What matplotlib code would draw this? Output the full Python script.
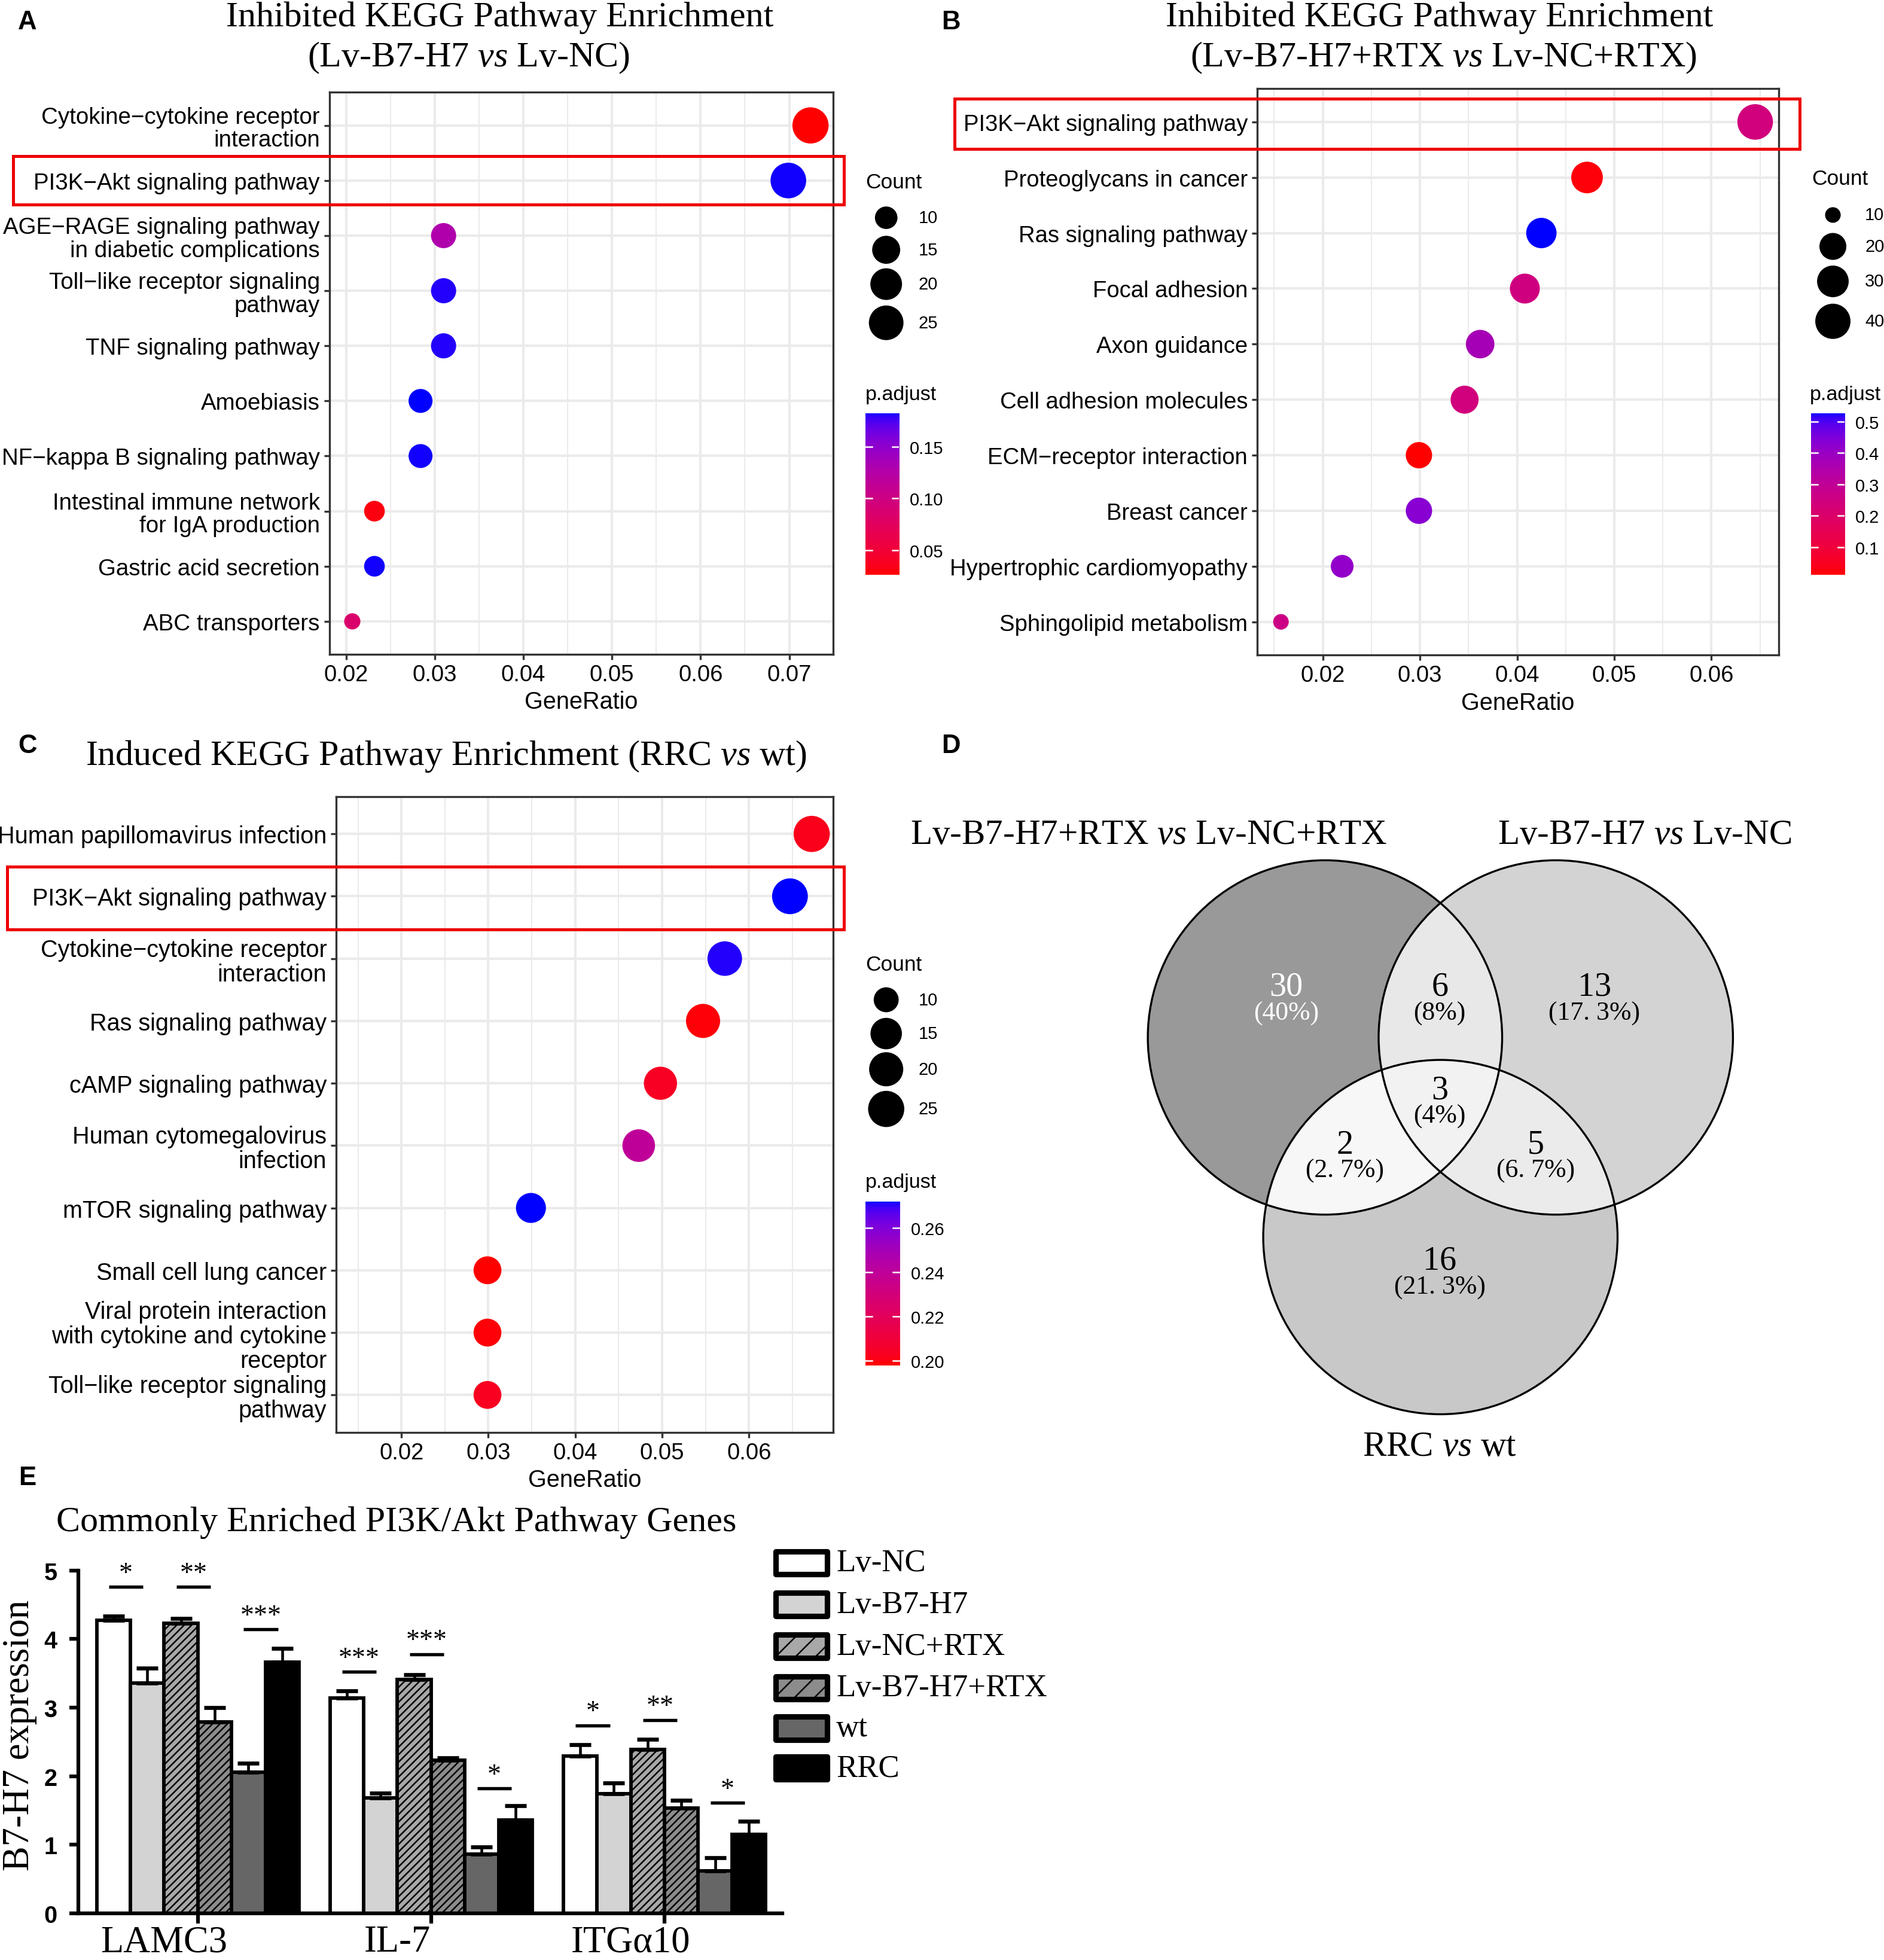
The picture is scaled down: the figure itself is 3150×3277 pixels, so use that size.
import numpy as np
import matplotlib
matplotlib.use("Agg")
import matplotlib.pyplot as plt
from matplotlib.patches import Rectangle, Circle
from matplotlib.colors import ListedColormap, Normalize
from matplotlib.ticker import MultipleLocator, FormatStrFormatter
import matplotlib.transforms as mtransforms

plt.rcParams["font.family"] = ["Liberation Sans", "DejaVu Sans"]
plt.rcParams["mathtext.fontset"] = "custom"
plt.rcParams["mathtext.rm"] = "Liberation Serif"
plt.rcParams["mathtext.it"] = "Liberation Serif:italic"
plt.rcParams["hatch.linewidth"] = 0.6
SERIF = ["Liberation Serif", "DejaVu Serif"]

DPI = 300
PX = 2.086                      # image pixels per layout unit
W, H = 3150 / PX, 3278 / PX     # figure size in layout units
PT = PX * 72 / DPI              # points per layout unit
M = "\u2212"                    # ggplot renders "-" as a minus sign

# ---------------- panel A: Lv-B7-H7 vs Lv-NC ----------------
a_terms = [f"Cytokine{M}cytokine receptor\ninteraction",
           f"PI3K{M}Akt signaling pathway",
           f"AGE{M}RAGE signaling pathway\nin diabetic complications",
           f"Toll{M}like receptor signaling\npathway",
           "TNF signaling pathway",
           "Amoebiasis",
           f"NF{M}kappa B signaling pathway",
           "Intestinal immune network\nfor IgA production",
           "Gastric acid secretion",
           "ABC transporters"]
a_ratio = [0.0724, 0.0699, 0.0310, 0.0310, 0.0310, 0.0284, 0.0284, 0.0232, 0.0232, 0.0207]
a_count = [28, 27, 12, 12, 12, 11, 11, 9, 9, 8]
a_padj = [0.026, 0.181, 0.128, 0.180, 0.180, 0.182, 0.181, 0.030, 0.181, 0.085]

# ---------------- panel B: Lv-B7-H7+RTX vs Lv-NC+RTX ----------------
b_terms = [f"PI3K{M}Akt signaling pathway", "Proteoglycans in cancer",
           "Ras signaling pathway", "Focal adhesion", "Axon guidance",
           "Cell adhesion molecules", f"ECM{M}receptor interaction",
           "Breast cancer", "Hypertrophic cardiomyopathy",
           "Sphingolipid metabolism"]
b_ratio = [0.0645, 0.0472, 0.0425, 0.0408, 0.0362, 0.0346, 0.0299, 0.0299, 0.0220, 0.0157]
b_count = [41, 30, 27, 26, 23, 22, 19, 19, 14, 10]
b_padj = [0.24, 0.02, 0.526, 0.25, 0.37, 0.24, 0.0105, 0.43, 0.41, 0.26]

# ---------------- panel C: RRC vs wt ----------------
c_terms = ["Human papillomavirus infection", f"PI3K{M}Akt signaling pathway",
           f"Cytokine{M}cytokine receptor\ninteraction", "Ras signaling pathway",
           "cAMP signaling pathway", "Human cytomegalovirus\ninfection",
           "mTOR signaling pathway", "Small cell lung cancer",
           "Viral protein interaction\nwith cytokine and cytokine\nreceptor",
           f"Toll{M}like receptor signaling\npathway"]
c_ratio = [0.0672, 0.0647, 0.0572, 0.0547, 0.0498, 0.0473, 0.0349, 0.0299, 0.0299, 0.0299]
c_count = [25, 24, 21, 20, 18, 17, 13, 11, 11, 11]
c_padj = [0.202, 0.272, 0.271, 0.199, 0.204, 0.240, 0.272, 0.198, 0.199, 0.203]

# ---------------- panel D: Venn counts ----------------
venn_regions = ["L", "LR", "R", "LB", "LRB", "RB", "B"]
venn_counts = [30, 6, 13, 2, 3, 5, 16]

# ---------------- panel E: qPCR ----------------
genes = ["LAMC3", "IL-7", "ITG\u03b110"]
conditions = ["Lv-NC", "Lv-B7-H7", "Lv-NC+RTX", "Lv-B7-H7+RTX", "wt", "RRC"]
lvnc = [4.27, 3.14, 2.29]
lvb7 = [3.36, 1.68, 1.74]
lvnc_rtx = [4.23, 3.41, 2.39]
lvb7_rtx = [2.79, 2.23, 1.53]
wt = [2.06, 0.86, 0.62]
rrc = [3.66, 1.36, 1.15]
lvnc_err = [0.065, 0.10, 0.17]
lvb7_err = [0.215, 0.07, 0.16]
lvnc_rtx_err = [0.07, 0.07, 0.15]
lvb7_rtx_err = [0.21, 0.04, 0.12]
wt_err = [0.13, 0.11, 0.19]
rrc_err = [0.20, 0.21, 0.19]
sig_gene = [0, 0, 0, 1, 1, 1, 2, 2, 2]
sig_left = [0, 2, 4, 0, 2, 4, 0, 2, 4]
sig_right = [1, 3, 5, 1, 3, 5, 1, 3, 5]
sig_y = [4.76, 4.76, 4.14, 3.52, 3.78, 1.82, 2.74, 2.82, 1.61]
sig_text = ["*", "**", "***", "***", "***", "*", "*", "**", "*"]


def fbox(x0, y0, x1, y1):
    return [x0 / W, 1 - y1 / H, (x1 - x0) / W, (y1 - y0) / H]


def lab_ramp(c0, c1, n=256):
    # ggplot interpolates gradients in CIELAB
    mat = np.array([[0.4124564, 0.3575761, 0.1804375],
                    [0.2126729, 0.7151522, 0.0721750],
                    [0.0193339, 0.1191920, 0.9503041]])
    white = np.array([0.95047, 1.0, 1.08883])
    d = 6 / 29

    def to_lab(rgb):
        c = np.array(rgb, float)
        lin = np.where(c <= 0.04045, c / 12.92, ((c + 0.055) / 1.055) ** 2.4)
        xyz = mat @ lin / white
        f = np.where(xyz > d ** 3, np.cbrt(xyz), xyz / (3 * d * d) + 4 / 29)
        return np.array([116 * f[1] - 16, 500 * (f[0] - f[1]), 200 * (f[1] - f[2])])

    t = np.linspace(0, 1, n)[:, None]
    lab = to_lab(c0) * (1 - t) + to_lab(c1) * t
    fy = (lab[:, 0] + 16) / 116
    f = np.stack([fy + lab[:, 1] / 500, fy, fy - lab[:, 2] / 200], axis=1)
    xyz = np.where(f > d, f ** 3, 3 * d * d * (f - 4 / 29)) * white
    lin = np.clip(xyz @ np.linalg.inv(mat).T, 0, 1)
    rgb = np.where(lin <= 0.0031308, 12.92 * lin, 1.055 * lin ** (1 / 2.4) - 0.055)
    return ListedColormap(np.clip(rgb, 0, 1))


CMAP = lab_ramp((1, 0, 0), (0, 0, 1))


def size_scale(c0, c1, d0, d1):
    def f(c):
        frac = np.clip((np.asarray(c, float) - c0) / (c1 - c0), 0, 1)
        return ((d0 + (d1 - d0) * np.sqrt(frac)) * PT) ** 2
    return f


def dotplot(ax, terms, ratio, count, padj, size_fn, label_size, xlim=None):
    n = len(terms)
    ypos = np.arange(n)[::-1]
    norm = Normalize(min(padj), max(padj))
    ax.scatter(ratio, ypos, s=size_fn(count), c=padj, cmap=CMAP, norm=norm,
               edgecolors="none", zorder=3)
    if xlim is None:
        span = max(ratio) - min(ratio)
        xlim = (min(ratio) - 0.05 * span, max(ratio) + 0.05 * span)
    ax.set_xlim(*xlim)
    ax.set_ylim(-0.6, n - 0.4)
    ax.xaxis.set_major_locator(MultipleLocator(0.01))
    ax.xaxis.set_minor_locator(MultipleLocator(0.005))
    ax.xaxis.set_major_formatter(FormatStrFormatter("%.2f"))
    ax.set_yticks(ypos)
    ax.set_yticklabels(terms, linespacing=1.1, fontsize=label_size)
    ax.grid(which="major", color="#EBEBEB", lw=1.0)
    ax.grid(which="minor", axis="x", color="#EBEBEB", lw=0.5)
    ax.set_axisbelow(True)
    ax.tick_params(which="major", length=2.2, width=0.8, color="#333333",
                   pad=1.6)
    ax.tick_params(axis="x", labelsize=9.2)
    ax.tick_params(which="minor", length=0)
    for s in ax.spines.values():
        s.set_color("#333333")
        s.set_linewidth(0.8)
    ax.set_xlabel("GeneRatio", fontsize=9.5, labelpad=2)
    return norm


def colorbar(box, norm, ticks, fmt):
    cax = fig.add_axes(fbox(*box))
    grad = np.linspace(norm.vmin, norm.vmax, 256)[:, None]
    cax.imshow(grad, aspect="auto", origin="lower", cmap=CMAP, norm=norm,
               extent=(0, 1, norm.vmin, norm.vmax))
    for t in ticks:
        cax.plot([0, 0.2], [t, t], color="white", lw=0.6)
        cax.plot([0.8, 1], [t, t], color="white", lw=0.6)
    cax.set_xlim(0, 1)
    cax.set_ylim(norm.vmin, norm.vmax)
    cax.set_xticks([])
    cax.yaxis.tick_right()
    cax.set_yticks(ticks)
    cax.set_yticklabels([fmt % t for t in ticks])
    cax.tick_params(axis="y", length=0, pad=4.3, labelsize=7)
    for s in cax.spines.values():
        s.set_visible(False)


fig = plt.figure(figsize=(3150 / DPI, 3278 / DPI), dpi=DPI)

ax_a = fig.add_axes(fbox(264, 74.5, 668, 525))
ax_b = fig.add_axes(fbox(1007.7, 71.5, 1425.8, 525.6))
ax_c = fig.add_axes(fbox(269.5, 638.9, 668, 1148.5))

size_a = size_scale(8, 28, 13, 29)
size_b = size_scale(10, 41, 12.5, 28.5)
size_c = size_scale(10, 25, 20, 29)

norm_a = dotplot(ax_a, a_terms, a_ratio, a_count, a_padj, size_a, 9.25)
norm_b = dotplot(ax_b, b_terms, b_ratio, b_count, b_padj, size_b, 9.2)
norm_c = dotplot(ax_c, c_terms, c_ratio, c_count, c_padj, size_c, 9.5,
                 xlim=(0.0125, 0.0697))

colorbar((693.6, 331.8, 720.5, 461.4), norm_a, [0.05, 0.10, 0.15], "%.2f")
colorbar((1451.4, 331.8, 1478.3, 461.4), norm_b, [0.1, 0.2, 0.3, 0.4, 0.5], "%.1f")
colorbar((693.6, 963.6, 721.4, 1094.8), norm_c, [0.20, 0.22, 0.24, 0.26], "%.2f")

# ---------------- panel E axes ----------------
ax_e = fig.add_axes(fbox(63, 1259.2, 627, 1533.9))
xg = np.arange(len(genes))
bw = 0.1446
series = [lvnc, lvb7, lvnc_rtx, lvb7_rtx, wt, rrc]
errors = [lvnc_err, lvb7_err, lvnc_rtx_err, lvb7_rtx_err, wt_err, rrc_err]
fills = ["white", "#D3D3D3", "#A8A8A8", "#8C8C8C", "#666666", "black"]
hatches = [None, None, "////////", "////////", None, None]
for k, (vals, err) in enumerate(zip(series, errors)):
    xs = xg + (k - 2.5) * bw
    ax_e.bar(xs, vals, bw, color=fills[k], edgecolor="black", linewidth=1.4,
             hatch=hatches[k], zorder=2, label=conditions[k])
    ax_e.errorbar(xs, vals, yerr=[np.zeros(len(vals)), err], fmt="none",
                  ecolor="black", elinewidth=1.1, capsize=4.3, capthick=1.6,
                  zorder=3)
for g, i, j, yv, lab in zip(sig_gene, sig_left, sig_right, sig_y, sig_text):
    x0 = g + (i - 2.5) * bw - 0.14 * bw
    x1 = g + (j - 2.5) * bw - 0.12 * bw
    ax_e.plot([x0, x1], [yv, yv], color="black", lw=1.3, clip_on=False,
              solid_capstyle="butt")
    ax_e.text((x0 + x1) / 2, yv + 0.19, lab, ha="center", va="center",
              family=SERIF, fontsize=11, clip_on=False)
ax_e.set_xlim(-0.511, 2.505)
ax_e.set_ylim(0, 5)
ax_e.set_yticks(range(6))
ax_e.set_yticklabels([str(v) for v in range(6)], fontweight="bold", fontsize=9.5)
ax_e.set_xticks(xg)
ax_e.set_xticklabels([])
# GraphPad placed the group names a little left of their ticks
lbl_tr = mtransforms.blended_transform_factory(ax_e.transData, ax_e.transAxes)
for g, name in zip(xg, genes):
    ax_e.text(g - 0.145, -0.085, name, transform=lbl_tr, family=SERIF,
              fontsize=15, ha="center", va="center", clip_on=False)
ax_e.tick_params(axis="y", length=3.6, width=1.5, pad=5)
ax_e.tick_params(axis="x", length=4, width=1.5, pad=1)
for s in ("top", "right"):
    ax_e.spines[s].set_visible(False)
for s in ("left", "bottom"):
    ax_e.spines[s].set_linewidth(1.5)

# ---------------- overlay in layout units ----------------
ov = fig.add_axes([0, 0, 1, 1], zorder=10)
ov.patch.set_alpha(0)

for letter, (lx, ly) in zip("ABCDE", [(22, 18), (762, 18), (22, 598), (762, 598), (22, 1185)]):
    ov.text(lx, ly, letter, fontsize=10.5, fontweight="bold", ha="center", va="center")

title_kw = dict(family=SERIF, fontsize=14.4, ha="center", va="baseline")
ov.text(400.6, 21, "Inhibited KEGG Pathway Enrichment", **title_kw)
ov.text(375.6, 53.5, r"(Lv-B7-H7 $\it{vs}$ Lv-NC)", **title_kw)
ov.text(1153.6, 21, "Inhibited KEGG Pathway Enrichment", **title_kw)
ov.text(1157, 53.5, r"(Lv-B7-H7+RTX $\it{vs}$ Lv-NC+RTX)", **title_kw)
ov.text(357.6, 613, r"Induced KEGG Pathway Enrichment (RRC $\it{vs}$ wt)", **title_kw)
ov.text(317.6, 1227, "Commonly Enriched PI3K/Akt Pathway Genes", **title_kw)

# highlight boxes around PI3K-Akt rows
for x0, y0, x1, y1 in [(10.7, 125.4, 676.5, 164.4), (765, 79.5, 1442.5, 119.7),
                       (5.9, 695, 676.5, 745.5)]:
    ov.add_patch(Rectangle((x0, y0), x1 - x0, y1 - y0, fill=False,
                           edgecolor="#EE0000", lw=1.2, clip_on=False))


def count_legend(x, y_title, ys, vals, size_fn):
    ov.text(x, y_title, "Count", fontsize=8.5, ha="left", va="center")
    ov.scatter([x + 16.7] * len(vals), ys, s=size_fn(vals), color="black",
               edgecolors="none")
    for v, yy in zip(vals, ys):
        ov.text(x + 42.4, yy, str(v), fontsize=7, ha="left", va="center")


count_legend(693.6, 146.4, [175, 200.7, 228.2, 259.2], [10, 15, 20, 25], size_a)
count_legend(1452.4, 143.4, [172.8, 198, 226, 258], [10, 20, 30, 40], size_b)
count_legend(693.6, 773.3, [801.8, 828.9, 857.5, 889.3], [10, 15, 20, 25], size_c)
for px_, py_ in [(693.6, 316.5), (1450.4, 316.5), (693.6, 948.1)]:
    ov.text(px_, py_, "p.adjust", fontsize=8.2, ha="left", va="center")

# ---- Venn diagram ----
r = 142
cL, cR, cB = (1062, 832), (1247, 832), (1154.5, 992)
gx = np.linspace(900, 1410, 1200)
gy = np.linspace(670, 1150, 1130)
X, Y = np.meshgrid(gx, gy)
inL = (X - cL[0]) ** 2 + (Y - cL[1]) ** 2 <= r * r
inR = (X - cR[0]) ** 2 + (Y - cR[1]) ** 2 <= r * r
inB = (X - cB[0]) ** 2 + (Y - cB[1]) ** 2 <= r * r
code = inL * 1 + inR * 2 + inB * 4
shade = {1: 0x99, 2: 0xD3, 4: 0xC8, 3: 0xE8, 5: 0xF7, 6: 0xEB, 7: 0xF2}
img = np.zeros(code.shape + (4,))
for k, g in shade.items():
    img[code == k] = (g / 255, g / 255, g / 255, 1)
ov.imshow(img, extent=(900, 1410, 1150, 670), aspect="auto", interpolation="nearest")
for c in (cL, cR, cB):
    ov.add_patch(Circle(c, r, fill=False, edgecolor="black", lw=0.8))

total = sum(venn_counts)
venn_pos = {"L": (1031, 791, 812.5), "LR": (1154, 791, 812.5), "R": (1278, 791, 812.5),
            "LB": (1078, 918, 938.7), "LRB": (1154, 874, 895),
            "RB": (1231, 918, 938.7), "B": (1154, 1011, 1032)}
for reg, cnt in zip(venn_regions, venn_counts):
    x, y_num, y_pct = venn_pos[reg]
    col = "white" if reg == "L" else "black"
    pct = f"{100 * cnt / total:.1f}".replace(".0", "").replace(".", ". ")
    ov.text(x, y_num, str(cnt), family=SERIF, fontsize=13.5, color=col,
            ha="center", va="center")
    ov.text(x, y_pct, f"({pct}%)", family=SERIF, fontsize=10.5, color=col,
            ha="center", va="center")
venn_kw = dict(family=SERIF, fontsize=14.2, ha="center", va="baseline")
ov.text(920.4, 676.6, r"Lv-B7-H7+RTX $\it{vs}$ Lv-NC+RTX", **venn_kw)
ov.text(1318, 676.6, r"Lv-B7-H7 $\it{vs}$ Lv-NC", **venn_kw)
ov.text(1153.7, 1166.7, r"RRC $\it{vs}$ wt", **venn_kw)

# ---- panel E legend and y label ----
leg_y = [1253, 1286.5, 1320, 1353.4, 1385.6, 1417.6]
for k, yy in enumerate(leg_y):
    ov.add_patch(Rectangle((621.8, yy - 9.2), 41.2, 18.4, facecolor=fills[k],
                           edgecolor="black", lw=2.2, joinstyle="round",
                           hatch="///" if hatches[k] else None))
    ov.text(670.3, yy, conditions[k], family=SERIF, fontsize=12.7,
            ha="left", va="center")
ov.text(15.6, 1391, "B7-H7 expression", family=SERIF, fontsize=15,
        rotation=90, ha="center", va="center")

ov.set_xlim(0, W)
ov.set_ylim(H, 0)
ov.axis("off")

fig.savefig("out.png", dpi=DPI)
